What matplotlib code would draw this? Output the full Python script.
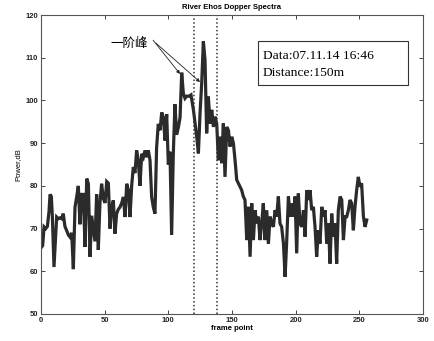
import matplotlib
matplotlib.use("Agg")
import matplotlib.pyplot as plt
from matplotlib.patches import Rectangle

frame = [0.0, 1.3, 2.4, 3.7, 5.0, 6.3, 7.1, 8.1, 8.9, 10.2, 11.3, 12.3, 13.6, 14.9, 16.2, 17.5, 18.8,
         20.2, 21.5, 22.8, 24.1, 25.4, 26.7, 28.0, 29.3, 30.6, 31.9, 33.2, 34.6, 35.9, 37.2, 38.5,
         39.8, 41.1, 42.4, 43.7, 45.0, 46.3, 47.6, 49.0, 50.3, 51.6, 52.9, 54.2, 55.5, 56.8, 58.1,
         59.4, 60.7, 62.0, 63.4, 64.7, 66.0, 67.3, 68.6, 69.9, 71.2, 72.5, 73.8, 75.1, 76.4, 77.7,
         79.1, 80.4, 81.7, 83.0, 84.3, 85.6, 86.9, 88.2, 89.5, 90.8, 92.1, 93.5, 94.8, 96.1, 97.4,
         98.7, 100.0, 101.3, 102.6, 103.9, 105.2, 106.5, 107.9, 109.2, 110.5,
         111.8, 113.1, 114.4, 116.3, 117.8, 119.7, 121.0, 122.3, 123.6, 124.9, 126.2, 127.5, 128.8,
         130.1, 131.4, 132.8, 134.1, 135.4, 136.7, 138.0, 139.3, 140.6, 141.9, 143.2, 144.5, 145.9,
         147.2, 148.5, 149.8, 151.1, 152.4, 153.7, 155.0, 156.3, 157.6, 158.9, 160.2, 161.6, 162.9,
         164.2, 165.5, 166.8, 168.1, 169.4, 170.7, 172.0, 173.3, 174.6, 175.9, 177.3, 178.6, 179.9,
         181.2, 182.5, 183.8, 185.1, 186.4, 187.7, 189.0, 190.4, 191.7, 193.0, 194.3, 195.6, 196.9,
         198.2, 199.5, 200.8, 202.1, 203.4, 204.8, 206.1, 207.4, 208.7, 210.0, 211.3, 212.6, 213.9,
         215.2, 216.5, 217.8, 219.1, 220.5, 221.8, 223.1, 224.4, 225.7, 227.0, 228.3, 229.6, 230.9,
         232.2, 233.5, 234.9, 236.2, 237.5, 238.8, 240.1, 241.4, 242.7, 244.0, 245.3, 246.6, 247.9,
         249.2, 250.5, 251.8, 253.2, 254.5, 255.8]

power = [65.5, 66, 70.4, 70, 70.5, 74, 78, 77.5, 73, 61, 67, 72.7, 72.3, 72.5, 72.3, 73.5, 70.5,
         69.5, 68.5, 68, 69, 60.5, 75, 77.4, 80, 71, 78, 78, 65.7, 81.7, 80.5, 63.4,
         73, 70, 67, 78, 65, 76, 80.5, 77, 76, 81, 80.6, 70, 75, 76.6, 68.8,
         73.5, 74.5, 75, 76, 77.4, 72.7, 80.5, 79, 72.7, 80, 84.4, 83, 88.3, 86, 80,
         87.5, 86.7, 88.3, 86.7, 88.3, 86, 77.4, 75, 73.5, 89, 94.5, 93, 97.2, 96, 90.6,
         96.8, 85, 88, 68.5, 87.5, 99.1, 92, 93.7, 96, 106.5,
         101.6, 100.5, 101, 101, 101.3, 97.8, 94.6, 91.5, 87.6, 97, 104, 113.8, 109.5,
         92.3, 100.9, 94.6, 97.8, 93.8, 96.2, 94.6, 86, 91.5, 85.3, 94.6, 82.1, 93.8,
         93, 89.2, 91.5, 90, 86, 81.4, 80.6, 79.8, 79, 77.5, 76.7, 67.3, 75.1,
         63.4, 75.9, 67.3, 74.3, 71.2, 72.8, 67.3, 71.2, 75.9, 67.3, 74.3, 66.5, 72.8,
         71.2, 70.4, 74.3, 72.8, 77.5, 71.2, 70.4, 66.5, 58.7, 67.3, 77.5, 72.8, 75.9,
         72.8, 77.5, 64.2, 78.2, 71.2, 70.4, 74.3, 68.1, 79, 76.7, 79, 74.3, 75.1,
         70.4, 63.4, 69.6, 66.5, 75.1, 72.8, 74.3, 66.5, 71.2, 61.8, 73.5, 68.1, 71.2,
         61.8, 74.3, 77.5, 76.7, 67.3, 72.8, 72.8, 74.3, 76.7, 75.9, 69.6, 75.1, 79,
         82.1, 79.8, 80.6, 72.8, 70.4, 72.0]

marker_lines = [120, 138]
x_ticks = [0, 50, 100, 150, 200, 250, 300]
y_ticks = [50, 60, 70, 80, 90, 100, 110, 120]
title = "River Ehos Dopper Spectra"
info_lines = ["Data:07.11.14 16:46", "Distance:150m"]
peak_label = "一阶峰"
peak_points = [(109.2, 106.2), (124.9, 104.3)]

plt.rcParams['font.family'] = ['Liberation Sans', 'DejaVu Sans']

fig = plt.figure(figsize=(4.34, 3.41), dpi=100)
ax = fig.add_axes([41/434, 1-314/341, 382/434, 299/341])

ax.plot(frame, power, color='#2b2b2b', lw=2.3, solid_joinstyle='miter')
for xv in marker_lines:
    ax.axvline(xv, color='#333333', ls=(0, (1, 1.5)), lw=1.1)

ax.set_xlim(0, 300)
ax.set_ylim(50, 120)
ax.set_xticks(x_ticks)
ax.set_yticks(y_ticks)
ax.tick_params(direction='in', length=3, width=0.6, top=True, right=True,
               labelsize=5.5, pad=2, colors='#222222')
for lab in ax.get_xticklabels() + ax.get_yticklabels():
    lab.set_fontweight('bold')
for s in ax.spines.values():
    s.set_linewidth(0.8)
    s.set_color('#555555')

ax.set_title(title, fontsize=5.5, fontweight='bold', pad=4)
ax.set_xlabel("frame point", fontsize=5.5, fontweight='bold', labelpad=1)
ax.set_ylabel("Power,dB", fontsize=5.5, labelpad=3)

# info box
ax.add_patch(Rectangle((170.4, 103.6), 117.8, 10.3, fill=False, ec='#333333', lw=0.8))
ax.text(174.1, 110.4, info_lines[0], family='Liberation Serif', fontsize=9.7, va='center', ha='left')
ax.text(174.1, 106.4, info_lines[1], family='Liberation Serif', fontsize=9.7, va='center', ha='left')

# peak annotation
ax.text(69, 113.4, peak_label, family=['Noto Sans CJK SC', 'DejaVu Sans'], fontsize=9,
        va='center', ha='center')
tails = [(88.0, 114.1), (90.3, 113.4)]
for (tx, ty), (px, py) in zip(tails, peak_points):
    ax.annotate('', xy=(px, py), xytext=(tx, ty),
                arrowprops=dict(arrowstyle='-|>', lw=0.6, color='#222222',
                                mutation_scale=5, shrinkA=0, shrinkB=0))

fig.savefig('out.png', dpi=100)
